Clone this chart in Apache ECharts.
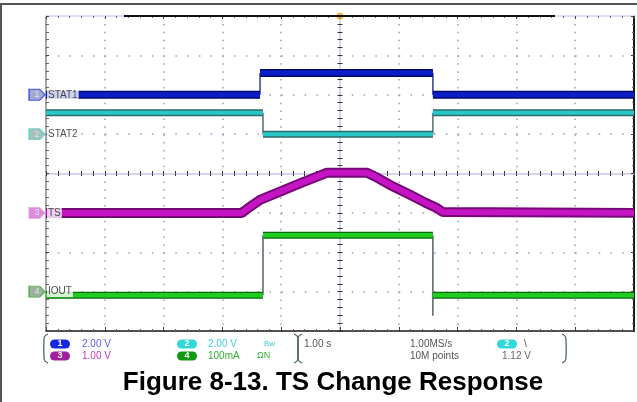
<!DOCTYPE html>
<html><head><meta charset="utf-8">
<script src="https://cdn.jsdelivr.net/npm/echarts@6/dist/echarts.min.js"></script>
<style>html,body{margin:0;padding:0;background:#fff}#c{width:637px;height:402px}</style>
</head><body><div id="c"></div>
<script>
// ---- scope settings ----
const timeMin = -5, timeMax = 5;           // seconds (1.00 s/div)
const divMin = -4, divMax = 4;             // vertical divisions
const channelNames = ['STAT1', 'STAT2', 'TS', 'IOUT'];
const channelNumbers = ['1', '2', '3', '4'];
const channelOffsetsDiv = [2, 1, -1, -3];  // ground marker positions (div)
const channelScales = [2.0, 2.0, 1.0, 100]; // V/div, V/div, V/div, mA/div
const triggerTimes = [0];

// ---- STAT1 (V) ----
const stat1EdgeTimes = [-1.36, 1.58];
const stat1Levels = [0.0, 1.10, 0.0];
// ---- STAT2 (V) ----
const stat2EdgeTimes = [-1.31, 1.58];
const stat2Levels = [1.08, 0.0, 1.08];
// ---- IOUT (mA) ----
const ioutEdgeTimes = [-1.31, 1.58];
const ioutLevels = [-9, 143, -9];
const ioutEdgeExtremes = [-9, -61];
// ---- TS (V) ----
const tsTimes = [-5, -1.67, -1.58, -1.36, -1.02, -0.68, -0.39, -0.22, 0.46, 0.60, 0.85, 1.19, 1.45, 1.65, 1.75, 5];
const tsValues = [0.0, 0.0, 0.10, 0.33, 0.54, 0.75, 0.92, 1.02, 1.02, 0.92, 0.71, 0.46, 0.26, 0.12, 0.02, 0.0];

// ---- helpers ----
function toDiv(ch, v) { return channelOffsetsDiv[ch] + v / channelScales[ch]; }
const GAP = ['-', '-'];
function horizontals(ch, edges, levels) {
  const out = [];
  const bounds = [timeMin].concat(edges, [timeMax]);
  for (let i = 0; i < levels.length; i++) {
    if (i > 0) out.push(GAP);
    out.push([bounds[i], toDiv(ch, levels[i])]);
    out.push([bounds[i + 1], toDiv(ch, levels[i])]);
  }
  return out;
}
function verticals(ch, edges, levels, extremes) {
  const out = [];
  for (let i = 0; i < edges.length; i++) {
    if (i > 0) out.push(GAP);
    out.push([edges[i], toDiv(ch, levels[i])]);
    let end = levels[i + 1];
    if (extremes && extremes[i] < Math.min(levels[i], levels[i + 1])) end = extremes[i];
    out.push([edges[i], toDiv(ch, end)]);
  }
  return out;
}
function band(name, data, edgeColor, coreColor, edgeW, coreW, z) {
  return [
    { type: 'line', name: name, data: data, showSymbol: false, symbol: 'none', connectNulls: false,
      lineStyle: { color: edgeColor, width: edgeW }, z: z, animation: false, silent: true },
    { type: 'line', name: name + ' core', data: data, showSymbol: false, symbol: 'none', connectNulls: false,
      lineStyle: { color: coreColor, width: coreW }, z: z + 0.5, animation: false, silent: true }
  ];
}
function thin(name, data, color) {
  return { type: 'line', name: name + ' edge', data: data, showSymbol: false, symbol: 'none',
    lineStyle: { color: color, width: 1.3 }, z: 1, animation: false, silent: true };
}

const tsData = tsTimes.map((t, i) => [t, toDiv(2, tsValues[i])]);

const markerFill = ['#8c94c4', '#8fb0a8', '#d070d0', '#7f9f7f'];
const markerStroke = ['#2438e8', '#4ad8c8', '#e4a4e4', '#34b034'];
const pentagon = 'path://M0,0 L10,0 L15,5.5 L10,11 L0,11 Z';

const markerSeries = channelNames.map((n, i) => ({
  type: 'scatter', name: 'marker ' + n, data: [[timeMin, channelOffsetsDiv[i]]],
  symbol: pentagon, symbolSize: [16, 11], symbolOffset: [-9, 0], clip: false,
  itemStyle: { color: markerFill[i], borderColor: markerStroke[i], borderWidth: 1.2 },
  label: { show: true, position: 'inside', formatter: channelNumbers[i], color: '#eef', fontSize: 9,
    fontFamily: 'Liberation Sans' },
  z: 10, animation: false, silent: true
}));
const nameSeries = channelNames.map((n, i) => ({
  type: 'scatter', name: 'name ' + n, data: [[timeMin, channelOffsetsDiv[i]]],
  symbolSize: 0, clip: false,
  label: { show: true, position: 'right', distance: 1, formatter: n, color: '#222', fontSize: 10,
    fontFamily: 'Liberation Sans', backgroundColor: '#ffffff', padding: [1, 1, 0, 1] },
  z: 9, animation: false, silent: true
}));

const minorDots = '#a494c0';
function edgeAxisX(pos, lineColor, lineW, tickLen, minorLen, split) {
  return {
    type: 'value', position: pos, min: timeMin, max: timeMax, interval: 1,
    axisLine: { show: true, onZero: false, lineStyle: { color: lineColor, width: lineW } },
    axisTick: { show: true, inside: true, length: tickLen, lineStyle: { color: '#444', width: 1 } },
    minorTick: { show: true, splitNumber: 5, length: minorLen, lineStyle: { color: '#666', width: 1 } },
    axisLabel: { show: false },
    splitLine: { show: split, lineStyle: { color: minorDots, width: 1.5, type: [1.5, 6.375] } }
  };
}
function edgeAxisY(pos, lineColor, lineW, tickLen, minorLen, split) {
  return {
    type: 'value', position: pos, min: divMin, max: divMax, interval: 1,
    axisLine: { show: true, onZero: false, lineStyle: { color: lineColor, width: lineW } },
    axisTick: { show: true, inside: true, length: tickLen, lineStyle: { color: '#444', width: 1 } },
    minorTick: { show: true, splitNumber: 5, length: minorLen, lineStyle: { color: '#666', width: 1 } },
    axisLabel: { show: false },
    splitLine: { show: split, lineStyle: { color: minorDots, width: 1.5, type: [1.5, 10.26] } }
  };
}
function centerAxis(kind, inside) {
  const base = kind === 'x'
    ? { type: 'value', position: 'bottom', min: timeMin, max: timeMax, interval: 1 }
    : { type: 'value', position: 'left', min: divMin, max: divMax, interval: 1 };
  return Object.assign(base, {
    axisLine: { show: true, onZero: true, onZeroAxisIndex: 0, lineStyle: { color: '#d6d2ee', width: 2 } },
    axisTick: { show: true, inside: inside, length: 2.5, lineStyle: { color: '#333', width: 1 } },
    minorTick: { show: true, splitNumber: 5, length: 2.5, lineStyle: { color: '#333', width: 1 } },
    axisLabel: { show: false }, splitLine: { show: false }
  });
}

const series = [].concat(
  band('STAT1', horizontals(0, stat1EdgeTimes, stat1Levels), '#000870', '#0c1ec8', 8, 5, 5),
  [thin('STAT1', verticals(0, stat1EdgeTimes, stat1Levels), '#10208a')],
  band('STAT2', horizontals(1, stat2EdgeTimes, stat2Levels), '#2a6c6c', '#28c8c8', 7, 4, 4),
  [thin('STAT2', verticals(1, stat2EdgeTimes, stat2Levels), '#3a5454')],
  band('TS', tsData, '#780878', '#c414c4', 10, 6, 3),
  band('IOUT', horizontals(3, ioutEdgeTimes, ioutLevels), '#0a6a0a', '#20cc20', 7, 4.5, 2),
  [thin('IOUT', verticals(3, ioutEdgeTimes, ioutLevels, ioutEdgeExtremes), '#3a4a4a')],
  markerSeries, nameSeries,
  [{ type: 'scatter', name: 'trigger', data: triggerTimes.map(t => [t, divMax]), symbol: 'circle',
     symbolSize: 7, clip: false, itemStyle: { color: '#f5a020' }, z: 12, animation: false, silent: true }]
);

const chart = echarts.init(document.getElementById('c'), null, { renderer: 'canvas' });
const txt = (x, y, s, color, size, extra) => ({
  type: 'text', x: x, y: y, z: 50,
  style: Object.assign({ text: s, fill: color, font: (size || 10) + 'px "Liberation Sans", Arial, sans-serif',
    textVerticalAlign: 'middle' }, extra || {})
});
const pill = (cx, cy, color, s) => ([
  { type: 'rect', shape: { x: cx - 10, y: cy - 4.5, width: 20, height: 9, r: 4.5 }, style: { fill: color }, z: 50 },
  { type: 'text', x: cx, y: cy, z: 51, style: { text: s, fill: '#fff', font: 'bold 9px "Liberation Sans", Arial',
    textAlign: 'center', textVerticalAlign: 'middle' } }
]);
const bracket = (pts) => ({ type: 'polyline', shape: { points: pts, smooth: 0.3 },
  style: { stroke: '#3f5c5c', lineWidth: 1.2, fill: null }, z: 50 });
const openB = (x) => bracket([[x + 4, 334], [x + 1, 336], [x, 339], [x, 358], [x + 1, 361], [x + 4, 363]]);
const closeB = (x) => bracket([[x - 4, 334], [x - 1, 336], [x, 339], [x, 358], [x - 1, 361], [x - 4, 363]]);

chart.setOption({
  animation: false,
  backgroundColor: '#ffffff',
  grid: { left: 46, top: 16, width: 588, height: 315, show: false, containLabel: false },
  xAxis: [
    edgeAxisX('bottom', '#1a1a1a', 1.5, 4, 2, true),
    edgeAxisX('top', '#dcdcf4', 2, 3, 2, false),
    centerAxis('x', true),
    centerAxis('x', false)
  ],
  yAxis: [
    edgeAxisY('left', '#8a8a8a', 1.5, 3, 3, true),
    edgeAxisY('right', '#1a1a1a', 2, 3, 2, false),
    centerAxis('y', true),
    centerAxis('y', false)
  ],
  series: series,
  graphic: [].concat(
    [
      { type: 'line', shape: { x1: 0, y1: 4, x2: 637, y2: 4 }, style: { stroke: '#555', lineWidth: 2 }, z: 60 },
      { type: 'line', shape: { x1: 1, y1: 4, x2: 1, y2: 402 }, style: { stroke: '#555', lineWidth: 2 }, z: 60 },
      { type: 'line', shape: { x1: 124, y1: 16, x2: 555, y2: 16 }, style: { stroke: '#111', lineWidth: 2 }, z: 60 },
      openB(44), closeB(298), openB(298), closeB(566)
    ],
    pill(60, 344, '#1428e0', '1'), pill(60, 356, '#a020a0', '3'),
    pill(187, 344, '#30d8d8', '2'), pill(187, 356, '#109a10', '4'),
    pill(507, 344, '#30d8d8', '2'),
    [
      txt(82, 344, '2.00 V', '#5a5af0'),
      txt(82, 356, '1.00 V', '#c040c0'),
      txt(208, 344, '2.00 V', '#40d0d8'),
      txt(208, 356, '100mA', '#30b030'),
      txt(264, 344, 'Bᴡ', '#40c8d8', 8),
      txt(257, 356, 'ΩN', '#30b030', 9),
      txt(304, 344, '1.00 s', '#555'),
      txt(410, 344, '1.00MS/s', '#555'),
      txt(410, 356, '10M points', '#555'),
      txt(524, 344, '\\', '#444'),
      txt(502, 356, '1.12 V', '#666'),
      { type: 'text', x: 333, y: 383, z: 60,
        style: { text: 'Figure 8-13. TS Change Response', fill: '#000',
          font: 'bold 26px "Liberation Sans", Arial, sans-serif', textAlign: 'center', textVerticalAlign: 'middle' } }
    ]
  )
});
</script></body></html>
